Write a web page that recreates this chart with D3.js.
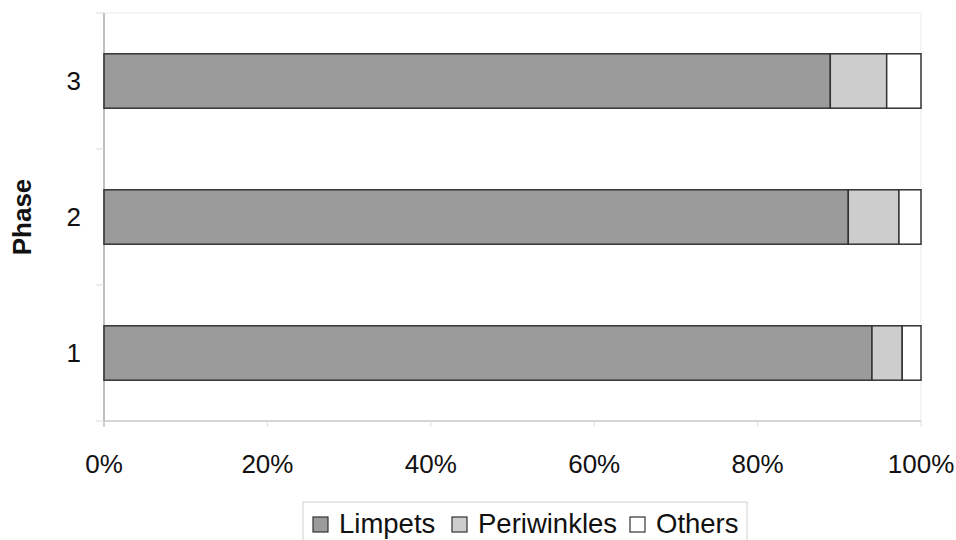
<!DOCTYPE html>
<html>
<head>
<meta charset="utf-8">
<script src="https://cdn.jsdelivr.net/npm/d3@7"></script>
<style>
  html, body { margin: 0; padding: 0; background: #fff; }
  svg { display: block; font-family: "Liberation Sans", Arial, sans-serif; }
</style>
</head>
<body>
<svg id="chart" width="956" height="540"></svg>
<script>
// Share of each prey group per phase (percent)
const phases = ["1", "2", "3"];
const limpets = [94.0, 91.1, 88.9];
const periwinkles = [3.7, 6.2, 6.9];
const others = [2.3, 2.7, 4.2];
const seriesNames = ["Limpets", "Periwinkles", "Others"];
const xTicks = [0, 20, 40, 60, 80, 100];

const colors = { Limpets: "#9b9b9b", Periwinkles: "#cdcdcd", Others: "#ffffff" };

const svg = d3.select("#chart");
const plot = { left: 104, right: 921, top: 13, bottom: 421 };

const x = d3.scaleLinear().domain([0, 100]).range([plot.left, plot.right]);
// Phase 3 at the top, phase 1 at the bottom
const y = d3.scaleBand()
  .domain(phases.slice().reverse())
  .range([plot.top, plot.bottom])
  .paddingInner(0.6)
  .paddingOuter(0.3);

const rows = phases.map((p, i) => ({
  phase: p, Limpets: limpets[i], Periwinkles: periwinkles[i], Others: others[i]
}));
const stacked = d3.stack().keys(seriesNames)(rows);

// Plot area frame (faint)
svg.append("rect")
  .attr("x", plot.left).attr("y", plot.top)
  .attr("width", plot.right - plot.left).attr("height", plot.bottom - plot.top)
  .attr("fill", "none").attr("stroke", "#ebebeb").attr("stroke-width", 1);

// Category axis on the left
const yAxisG = svg.append("g").attr("transform", `translate(${plot.left},0)`);
yAxisG.append("line")
  .attr("x1", 0).attr("x2", 0).attr("y1", plot.top).attr("y2", plot.bottom + 6)
  .attr("stroke", "#9a9a9a").attr("stroke-width", 1.2);
const step = y.step();
const boundaries = d3.range(phases.length + 1).map(i => plot.top + i * step);
yAxisG.selectAll("line.tick").data(boundaries).join("line")
  .attr("class", "tick")
  .attr("x1", -8).attr("x2", 0)
  .attr("y1", d => d).attr("y2", d => d)
  .attr("stroke", "#d8d8d8").attr("stroke-width", 1);
yAxisG.selectAll("text").data(phases).join("text")
  .attr("x", -23)
  .attr("y", d => y(d) + y.bandwidth() / 2)
  .attr("dy", "0.36em")
  .attr("text-anchor", "end")
  .attr("font-size", 26)
  .attr("fill", "#111")
  .text(d => d);

// Value axis along the bottom
const xAxisG = svg.append("g").attr("transform", `translate(0,${plot.bottom})`);
xAxisG.append("line")
  .attr("x1", plot.left).attr("x2", plot.right).attr("y1", 0).attr("y2", 0)
  .attr("stroke", "#b5b5b5").attr("stroke-width", 1.2);
xAxisG.selectAll("line.tick").data(xTicks).join("line")
  .attr("class", "tick")
  .attr("x1", d => x(d)).attr("x2", d => x(d))
  .attr("y1", 0).attr("y2", 6)
  .attr("stroke", "#dcdcdc").attr("stroke-width", 1);
xAxisG.selectAll("text").data(xTicks).join("text")
  .attr("x", d => x(d))
  .attr("y", 52)
  .attr("text-anchor", "middle")
  .attr("font-size", 26)
  .attr("fill", "#111")
  .text(d => d + "%");

// Stacked bars
svg.append("g").selectAll("g").data(stacked).join("g")
  .attr("fill", d => colors[d.key])
  .selectAll("rect").data(d => d).join("rect")
  .attr("x", d => x(d[0]))
  .attr("y", d => y(d.data.phase))
  .attr("width", d => x(d[1]) - x(d[0]))
  .attr("height", y.bandwidth())
  .attr("stroke", "#333")
  .attr("stroke-width", 1.5);

// Axis title
svg.append("text")
  .attr("transform", "translate(31,217) rotate(-90)")
  .attr("text-anchor", "middle")
  .attr("font-size", 26)
  .attr("font-weight", "bold")
  .attr("fill", "#111")
  .text("Phase");

// Legend
const legend = svg.append("g");
legend.append("rect")
  .attr("x", 303).attr("y", 502).attr("width", 444).attr("height", 50)
  .attr("fill", "#fff").attr("stroke", "#d0d0d0").attr("stroke-width", 1);
const legendX = [313, 452, 630];
seriesNames.forEach((name, i) => {
  legend.append("rect")
    .attr("x", legendX[i]).attr("y", 517).attr("width", 15).attr("height", 15)
    .attr("fill", colors[name]).attr("stroke", "#333").attr("stroke-width", 1.2);
  legend.append("text")
    .attr("x", legendX[i] + 26).attr("y", 533)
    .attr("font-size", 27.5)
    .attr("fill", "#111")
    .text(name);
});
</script>
</body>
</html>
